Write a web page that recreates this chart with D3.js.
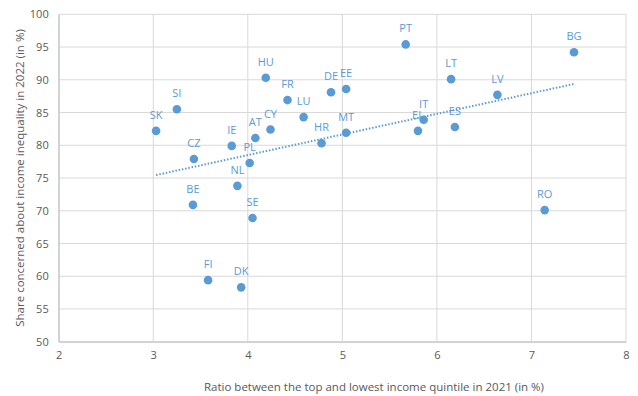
<!DOCTYPE html>
<html><head><meta charset="utf-8">
<script src="https://cdn.jsdelivr.net/npm/d3@7"></script>
<style>body{margin:0;background:#fff}svg{display:block}text{font-family:"Open Sans","Liberation Sans",sans-serif}</style>
</head><body>
<svg id="c" width="638" height="396"></svg>
<script>
const countries = ["SK","SI","HU","FR","LU","CY","AT","IE","CZ","PL","NL","BE","SE","FI","DK","PT","BG","LT","LV","DE","EE","MT","HR","EL","IT","ES","RO"];
const ratio2021 = [3.03,3.25,4.19,4.42,4.59,4.24,4.08,3.83,3.43,4.02,3.89,3.42,4.05,3.58,3.93,5.67,7.45,6.15,6.64,4.88,5.04,5.04,4.78,5.80,5.86,6.19,7.14];
const concern2022 = [82.2,85.5,90.3,86.9,84.3,82.4,81.1,79.9,77.9,77.3,73.8,70.9,68.9,59.4,58.3,95.4,94.2,90.1,87.7,88.1,88.6,81.9,80.3,82.2,83.9,82.8,70.1];
const xTicks = [2,3,4,5,6,7,8];
const yTicks = [50,55,60,65,70,75,80,85,90,95,100];
const xTitle = "Ratio between the top and lowest income quintile in 2021 (in %)";
const yTitle = "Share concerned about income inequality  in 2022 (in %)";

const svg = d3.select("#c");
const L = 58.7, R = 626, T = 14.3, B = 341.7;
const x = d3.scaleLinear().domain([2,8]).range([L,R]);
const y = d3.scaleLinear().domain([50,100]).range([B,T]);
const blue = "#5B9BD5", grid = "#D9D9D9", txt = "#595959";

// gridlines
svg.append("g").selectAll("line").data(yTicks).join("line")
  .attr("x1",L).attr("x2",R).attr("y1",d=>y(d)).attr("y2",d=>y(d))
  .attr("stroke",grid).attr("stroke-width",1);
svg.append("g").selectAll("line").data(xTicks).join("line")
  .attr("y1",T).attr("y2",B).attr("x1",d=>x(d)).attr("x2",d=>x(d))
  .attr("stroke",grid).attr("stroke-width",1);

// axes
const xa = svg.append("g").attr("transform",`translate(0,${B})`)
  .call(d3.axisBottom(x).tickValues(xTicks).tickSize(0).tickPadding(10).tickFormat(d3.format("d")));
const ya = svg.append("g").attr("transform",`translate(${L},0)`)
  .call(d3.axisLeft(y).tickValues(yTicks).tickSize(0).tickPadding(10).tickFormat(d3.format("d")));
[xa,ya].forEach(a=>{a.select(".domain").attr("stroke","#BFBFBF");a.selectAll("text").attr("fill",txt).style("font-size","11px");});

// titles
svg.append("text").attr("x",374).attr("y",391).attr("text-anchor","middle")
  .attr("fill",txt).style("font-size","11.5px").text(xTitle);
svg.append("text").attr("transform",`translate(24,${(T+B)/2}) rotate(-90)`).attr("text-anchor","middle")
  .attr("fill",txt).style("font-size","11.5px").text(yTitle);

// linear trendline (least squares)
const n = ratio2021.length;
const mx = d3.mean(ratio2021), my = d3.mean(concern2022);
let sxy=0,sxx=0;
for(let i=0;i<n;i++){sxy+=(ratio2021[i]-mx)*(concern2022[i]-my);sxx+=(ratio2021[i]-mx)**2;}
const slope = sxy/sxx, icpt = my - slope*mx;
const [x0,x1] = d3.extent(ratio2021);
svg.append("line").attr("x1",x(x0)).attr("y1",y(icpt+slope*x0)).attr("x2",x(x1)).attr("y2",y(icpt+slope*x1))
  .attr("stroke",blue).attr("stroke-width",2).attr("stroke-dasharray","1.5,1.8");

// points
const data = countries.map((c,i)=>({c,x:ratio2021[i],y:concern2022[i]}));
svg.append("g").selectAll("circle").data(data).join("circle")
  .attr("cx",d=>x(d.x)).attr("cy",d=>y(d.y)).attr("r",4.3).attr("fill",blue);
svg.append("g").selectAll("text").data(data).join("text")
  .attr("x",d=>x(d.x)).attr("y",d=>y(d.y)-12).attr("text-anchor","middle")
  .attr("fill",blue).style("font-size","11px").text(d=>d.c);
</script>
</body></html>
